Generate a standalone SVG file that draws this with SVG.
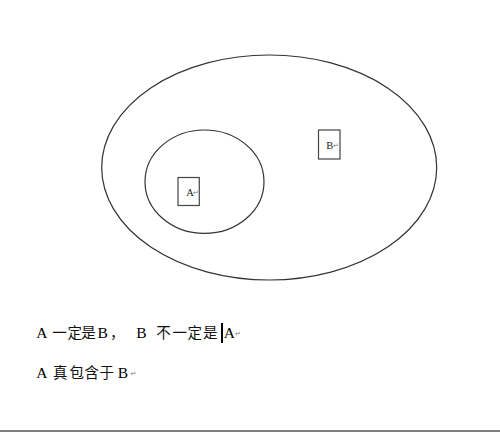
<svg xmlns="http://www.w3.org/2000/svg" width="500" height="432" viewBox="0 0 500 432">
<style>
.shape{fill:none;stroke:#333;stroke-width:1.2}
.box{fill:#fff;stroke:#444;stroke-width:1.2}
.lbl{font-family:"Liberation Serif","Noto Sans CJK SC",serif;font-size:10.5px;fill:#222}
.txt{font-family:"Liberation Serif","Noto Sans CJK SC",serif;font-size:15.5px;fill:#000}
.cjk{font-family:"Noto Sans CJK SC",sans-serif;font-size:14.5px;fill:#111}
.ret{font-family:"DejaVu Sans",sans-serif;font-size:7px;fill:#777}
</style>
<rect width="500" height="432" fill="#fff"/>
<g id="setB">
<ellipse class="shape" cx="269.2" cy="167.5" rx="167.5" ry="112.5"/>
</g>
<g id="setA">
<ellipse class="shape" cx="204.5" cy="181.7" rx="59.5" ry="51.7"/>
</g>
<g id="labelA">
<rect class="box" x="178" y="177.5" width="21.3" height="28"/>
<text class="lbl" x="186.3" y="195.5">A</text><text class="ret" x="193" y="194.5">↵</text>
</g>
<g id="labelB">
<rect class="box" x="318.5" y="130" width="21.5" height="29"/>
<text class="lbl" x="326.3" y="149">B</text><text class="ret" x="333" y="148">↵</text>
</g>
<g id="connectors"></g>
<g id="caption">
<text class="txt" y="337.5"><tspan x="36.3">A</tspan><tspan x="97.5">B</tspan><tspan x="136.3">B</tspan><tspan x="223.8">A</tspan></text>
<text class="cjk" y="337.5"><tspan x="52.2">一</tspan><tspan x="67.5">定</tspan><tspan x="81.2">是</tspan><tspan x="110">，</tspan><tspan x="156.2">不</tspan><tspan x="172.5">一</tspan><tspan x="187.5">定</tspan><tspan x="203">是</tspan></text>
<text class="ret" x="235" y="336">↵</text>
<rect x="221" y="323" width="2" height="20" fill="#000"/>
<text class="txt" y="377.5"><tspan x="36.3">A</tspan><tspan x="117.8">B</tspan></text>
<text class="cjk" y="377.5"><tspan x="53">真</tspan><tspan x="69.5">包</tspan><tspan x="84.5">含</tspan><tspan x="99.5">于</tspan></text>
<text class="ret" x="130.5" y="376">↵</text>
</g>
<line x1="0" y1="431" x2="500" y2="431" stroke="#000" stroke-width="1.2"/>
</svg>
